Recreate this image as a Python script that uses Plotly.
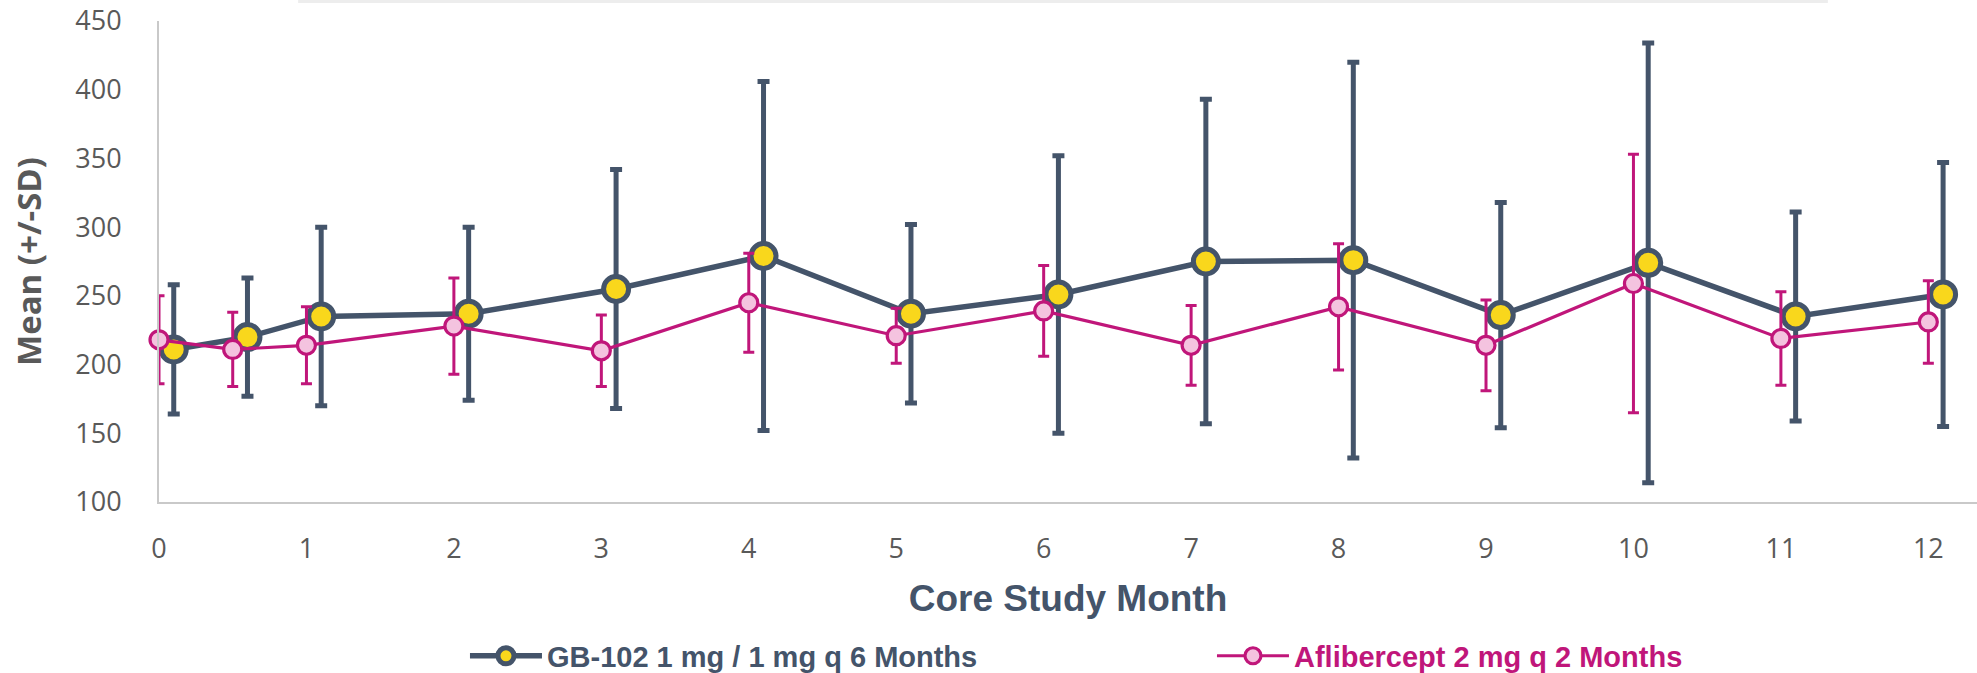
import plotly.graph_objects as go

# ---- data ----
months_gb = [0.1, 0.6, 1.1, 2.1, 3.1, 4.1, 5.1, 6.1, 7.1, 8.1, 9.1, 10.1, 11.1, 12.1]
mean_gb = [211, 220, 235, 237, 255, 279, 237, 251, 275, 276, 236, 274, 235, 251]
sd_gb = [47, 43, 65, 63, 87, 127, 65, 101, 118, 144, 82, 160, 76, 96]

months_af = [0, 0.5, 1, 2, 3, 4, 5, 6, 7, 8, 9, 10, 11, 12]
mean_af = [218, 211, 214, 228, 210, 245, 221, 239, 214, 242, 214, 259, 219, 231]
sd_af = [32, 27, 28, 35, 26, 36, 20, 33, 29, 46, 33, 94, 34, 30]

x_ticks = list(range(0, 13))
y_ticks = [100, 150, 200, 250, 300, 350, 400, 450]

name_gb = "GB-102 1 mg / 1 mg q 6 Months"
name_af = "Aflibercept 2 mg q 2 Months"

GB_COL = "#44546A"
GB_FILL = "#F9D71C"
AF_COL = "#C0167A"
AF_FILL = "#F4C3DF"
GRID_GRAY = "#C9C9C9"
TXT_GRAY = "#595959"

fig = go.Figure()

fig.add_trace(go.Scatter(
    x=months_gb, y=mean_gb, name=name_gb, mode="lines+markers",
    line=dict(color=GB_COL, width=5.5),
    marker=dict(size=25, color=GB_FILL, line=dict(color=GB_COL, width=5)),
    error_y=dict(type="data", array=sd_gb, visible=True, color=GB_COL,
                 thickness=5, width=6),
    cliponaxis=False,
))

fig.add_trace(go.Scatter(
    x=months_af, y=mean_af,
    name=f"<span style='color:{AF_COL}'>{name_af}</span>",
    mode="lines+markers",
    line=dict(color=AF_COL, width=3.2),
    marker=dict(size=18, color=AF_FILL, line=dict(color=AF_COL, width=3.2)),
    error_y=dict(type="data", array=sd_af, visible=True, color=AF_COL,
                 thickness=3, width=5.5),
    cliponaxis=False,
))

# faint shadow of a box cut off at the very top of the picture
fig.add_shape(type="rect", xref="paper", yref="paper",
              x0=0.0765, x1=0.918, y0=1.0375, y1=1.0437,
              line=dict(width=0), fillcolor="rgba(0,0,0,0.07)", layer="below")

fig.update_layout(
    width=1977, height=673,
    margin=dict(l=159, r=0, t=21, b=171, pad=0, autoexpand=False),
    plot_bgcolor="white", paper_bgcolor="white",
    showlegend=True,
    legend=dict(
        orientation="h", x=0.1683, xanchor="left", y=-0.32, yanchor="middle",
        font=dict(family="Liberation Sans, Arial", size=29, color=GB_COL, weight="bold"),
        itemwidth=72,
        entrywidth=660, entrywidthmode="pixels",
        bgcolor="rgba(0,0,0,0)", traceorder="normal",
    ),
    xaxis=dict(
        range=[0, 12.33], tickmode="array", tickvals=x_ticks,
        ticktext=[str(t) for t in x_ticks],
        showgrid=False, zeroline=False, showline=True,
        linecolor=GRID_GRAY, linewidth=2, ticks="",
        ticklabelstandoff=22,
        tickfont=dict(family="Open Sans", size=27, color=TXT_GRAY),
        title=dict(text="Core Study Month", standoff=20,
                   font=dict(family="Liberation Sans, Arial", size=37,
                             color=GB_COL, weight="bold")),
    ),
    yaxis=dict(
        range=[100, 450], tickmode="array", tickvals=y_ticks,
        ticktext=[str(t) for t in y_ticks],
        showgrid=False, zeroline=False, showline=True,
        linecolor=GRID_GRAY, linewidth=2, ticks="",
        ticklabelstandoff=30,
        tickfont=dict(family="Open Sans", size=27, color=TXT_GRAY),
        title=dict(text="Mean (+/-SD)", standoff=24,
                   font=dict(family="Open Sans", size=33,
                             color=TXT_GRAY, weight="bold")),
    ),
)

fig.write_html("out.html", config={"displayModeBar": False},
               post_script="document.body.style.margin='0';document.body.style.overflow='hidden';")
